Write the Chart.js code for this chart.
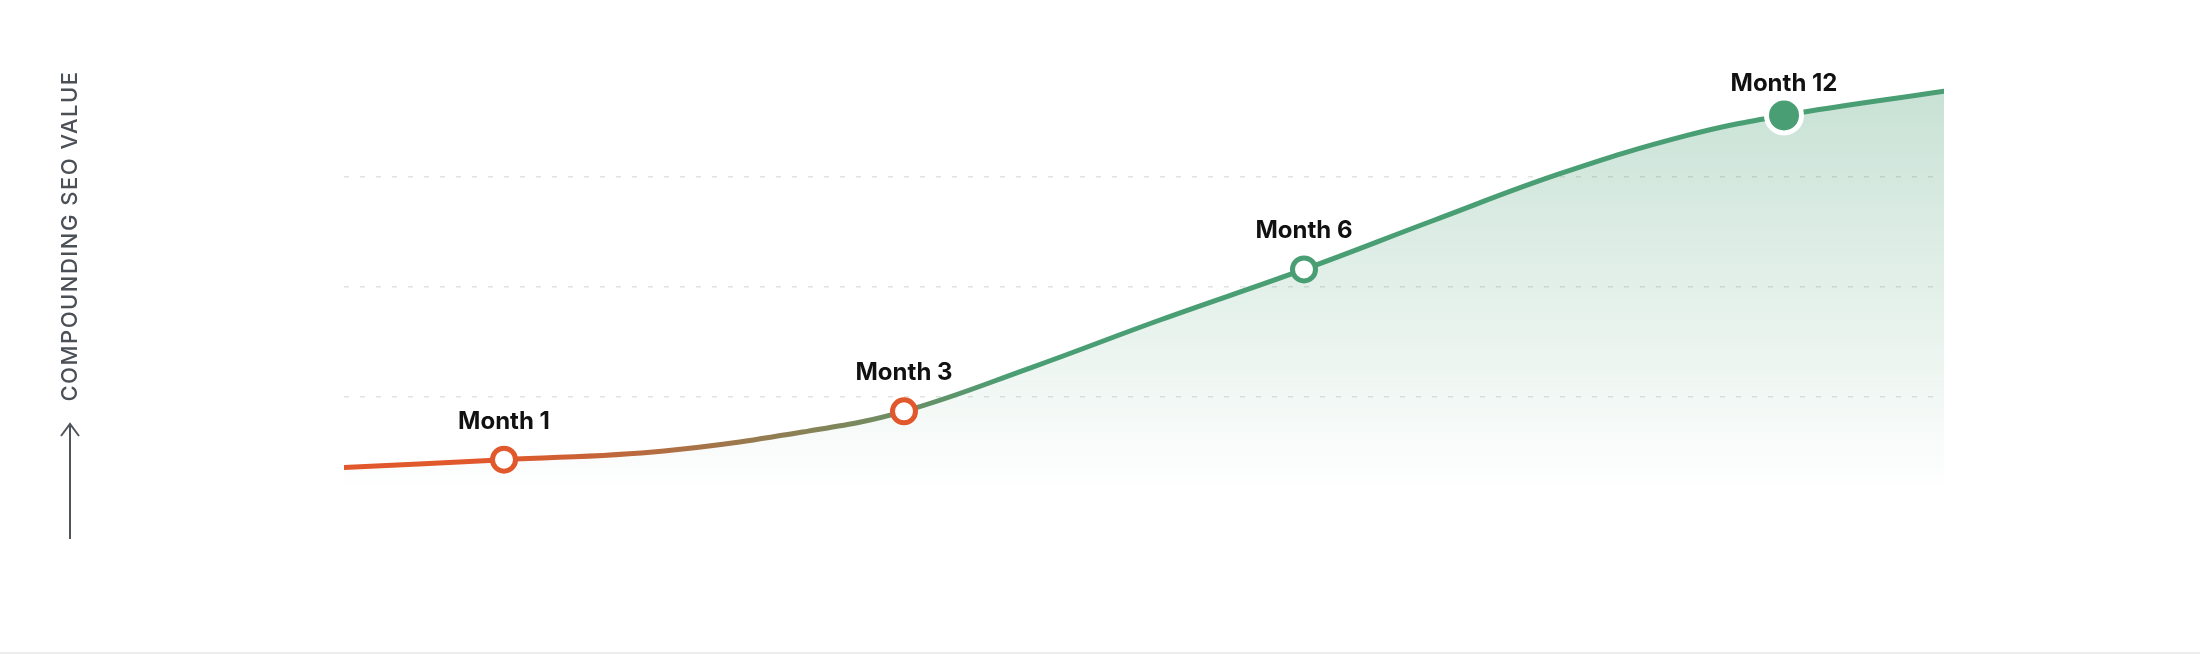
<!DOCTYPE html>
<html lang="en">
<head>
    <meta charset="UTF-8">
    <title>Compounding SEO Value</title>
    <script src="https://cdn.jsdelivr.net/npm/chart.js"></script>
    <style>
        body { margin: 0; background: #fff; }
        #grafica { display: block; }
        .pie { height: 2px; background: #ececec; }
    </style>
</head>
<body>
    <canvas id="grafica" width="2200" height="652"></canvas>
    <div class="pie"></div>

    <script>
        // posicion horizontal de cada punto de la curva (sin unidades, el eje no se muestra)
        var posiciones = [0, 1, 2, 2.9, 3.5, 4.3, 5.1, 6, 6.8, 7.6, 8.4, 9, 10];
        // valor SEO acumulado
        var valores = [0.36, 0.43, 0.51, 0.69, 0.87, 1.27, 1.70, 2.16, 2.60, 3.03, 3.38, 3.56, 3.78];
        // etiquetas de los hitos ('' = sin marcador)
        var hitos = ['', 'Month 1', '', '', 'Month 3', '', '', 'Month 6', '', '', '', 'Month 12', ''];
        var lineasGuia = [1, 2, 3];
        var tituloEje = 'COMPOUNDING SEO VALUE';

        var naranja = '#e0582b';
        var verde = '#4a9e74';

        var puntos = [];
        for (var i = 0; i < posiciones.length; i++) {
            puntos.push({ x: posiciones[i], y: valores[i] });
        }

        function esUltimo(i) { return hitos[i] === 'Month 12'; }
        function esNaranja(i) { return hitos[i] === 'Month 1' || hitos[i] === 'Month 3'; }

        // etiquetas "Month N" encima de cada marcador
        var pluginHitos = {
            id: 'hitos',
            afterDatasetsDraw: function(chart) {
                var c = chart.ctx;
                var meta = chart.getDatasetMeta(0);
                c.save();
                c.font = 'bold 24px Inter, "Liberation Sans", sans-serif';
                c.fillStyle = '#111111';
                c.textAlign = 'center';
                c.textBaseline = 'alphabetic';
                meta.data.forEach(function(p, i) {
                    if (!hitos[i]) return;
                    var off = esUltimo(i) ? 24 : 31;
                    c.fillText(hitos[i], p.x, p.y - off);
                });
                c.restore();
            }
        };

        // titulo vertical con flecha a la izquierda
        var pluginTitulo = {
            id: 'tituloEje',
            afterDraw: function(chart) {
                var c = chart.ctx;
                c.save();
                c.strokeStyle = '#50555c';
                c.lineWidth = 2;
                c.beginPath();
                c.moveTo(70, 539);
                c.lineTo(70, 424);
                c.moveTo(61, 436);
                c.lineTo(70, 424);
                c.lineTo(79, 436);
                c.stroke();

                c.translate(77, 236);
                c.rotate(-Math.PI / 2);
                c.font = '500 22px Inter, "Liberation Sans", sans-serif';
                c.letterSpacing = '1.5px';
                c.fillStyle = '#4b5057';
                c.textAlign = 'center';
                c.fillText(tituloEje, 0, 0);
                c.restore();
            }
        };

        var ctx = document.getElementById('grafica').getContext('2d');
        var grafica = new Chart(ctx, {
            type: 'line',
            data: {
                datasets: [{
                    data: puntos,
                    borderWidth: 5,
                    tension: 0.4,
                    borderCapStyle: 'round',
                    borderColor: function(context) {
                        var chart = context.chart;
                        if (!chart.chartArea) return naranja;
                        var xs = chart.scales.x;
                        var g = chart.ctx.createLinearGradient(xs.getPixelForValue(1), 0, xs.getPixelForValue(4.2), 0);
                        g.addColorStop(0, naranja);
                        g.addColorStop(1, verde);
                        return g;
                    },
                    fill: 'start',
                    backgroundColor: function(context) {
                        var chart = context.chart;
                        if (!chart.chartArea) return 'rgba(74,158,116,0.2)';
                        var g = chart.ctx.createLinearGradient(0, 90, 0, 495);
                        g.addColorStop(0, 'rgba(74,158,116,0.30)');
                        g.addColorStop(0.6, 'rgba(74,158,116,0.12)');
                        g.addColorStop(1, 'rgba(74,158,116,0)');
                        return g;
                    },
                    pointRadius: function(context) {
                        var i = context.dataIndex;
                        if (!hitos[i]) return 0;
                        return esUltimo(i) ? 17.5 : 11.5;
                    },
                    pointHoverRadius: 0,
                    pointBorderWidth: 5,
                    pointBorderColor: function(context) {
                        var i = context.dataIndex;
                        if (esUltimo(i)) return '#ffffff';
                        return esNaranja(i) ? naranja : verde;
                    },
                    pointBackgroundColor: function(context) {
                        return esUltimo(context.dataIndex) ? verde : '#ffffff';
                    }
                }]
            },
            options: {
                responsive: false,
                animation: false,
                events: [],
                layout: { padding: { left: 344, right: 256, top: 67, bottom: 145 } },
                plugins: { legend: { display: false }, tooltip: { enabled: false } },
                scales: {
                    x: { type: 'linear', min: 0, max: 10, display: false },
                    y: {
                        min: 0,
                        max: 4,
                        afterBuildTicks: function(axis) {
                            axis.ticks = lineasGuia.map(function(v) { return { value: v }; });
                        },
                        ticks: { display: false },
                        grid: {
                            drawTicks: false,
                            color: '#e2e2e2',
                            lineWidth: 1.5
                        },
                        border: { display: false, dash: [5, 11] }
                    }
                }
            },
            plugins: [pluginHitos, pluginTitulo]
        });
    </script>
</body>
</html>
